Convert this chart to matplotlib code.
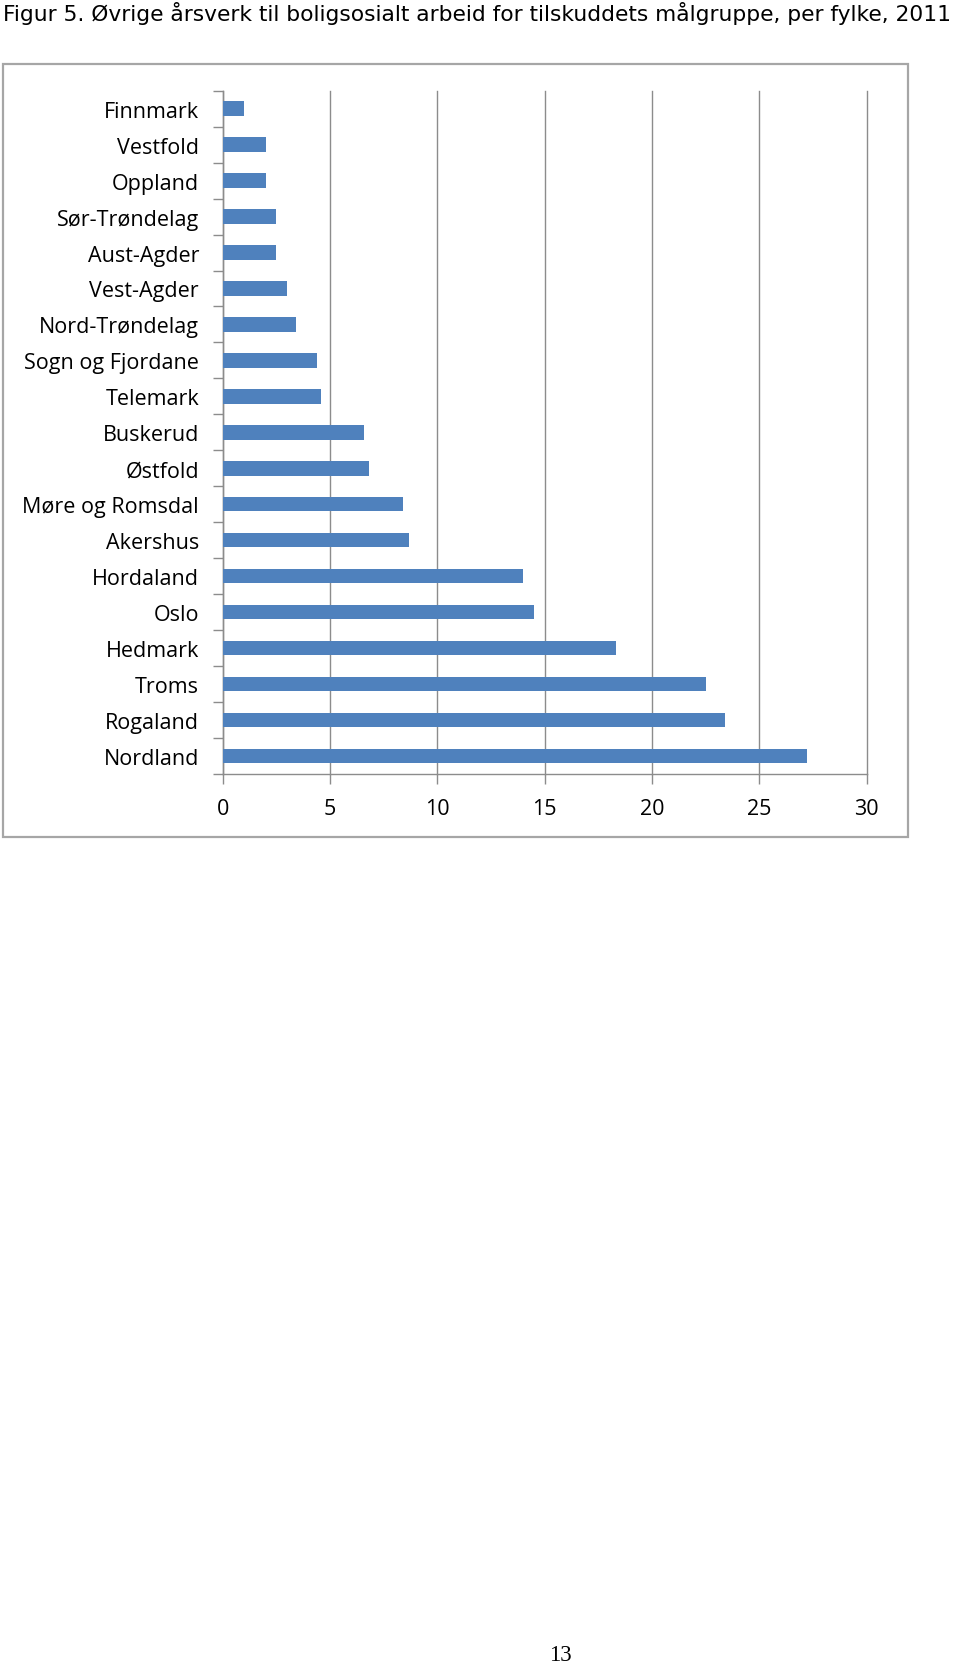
import matplotlib.pyplot as plt
from matplotlib.patches import Rectangle
import numpy as np

# data (top to bottom)
fylker = ['Finnmark', 'Vestfold', 'Oppland', 'Sør-Trøndelag', 'Aust-Agder',
          'Vest-Agder', 'Nord-Trøndelag', 'Sogn og Fjordane', 'Telemark',
          'Buskerud', 'Østfold', 'Møre og Romsdal', 'Akershus', 'Hordaland',
          'Oslo', 'Hedmark', 'Troms', 'Rogaland', 'Nordland']
aarsverk = [1.0, 2.0, 2.0, 2.5, 2.5, 3.0, 3.4, 4.4, 4.6, 6.6, 6.8, 8.4,
            8.7, 14.0, 14.5, 18.3, 22.5, 23.4, 27.2]
xticks = [0, 5, 10, 15, 20, 25, 30]

title = 'Figur 5. Øvrige årsverk til boligsosialt arbeid for tilskuddets målgruppe, per fylke, 2011'

W, H = 960, 1674
fig = plt.figure(figsize=(W / 100, H / 100), dpi=100)

grey = '#8c8c8c'

# outer chart frame (Excel chart area)
frame = Rectangle((2.7 / W, 1 - 837.7 / H), 905 / W, 773 / H,
                  transform=fig.transFigure, fill=False,
                  edgecolor='#a6a6a6', linewidth=1.6)
fig.patches.append(frame)

ax = fig.add_axes([222.7 / W, 1 - 775 / H, 644 / W, 683.3 / H])
y = np.arange(len(fylker))
ax.barh(y, aarsverk, height=0.4, color='#4f81bd', zorder=3)

ax.set_xlim(0, 30)
ax.set_ylim(len(fylker) - 0.5, -0.5)
ax.set_xticks(xticks)
ax.set_yticks(y)
ax.set_yticklabels(fylker)
ax.set_yticks(np.arange(len(fylker) + 1) - 0.5, minor=True)

lab_font = ['Open Sans', 'DejaVu Sans']
for lab in ax.get_yticklabels() + ax.get_xticklabels():
    lab.set_family(lab_font)
    lab.set_fontsize(15.5)

ax.tick_params(axis='y', which='major', length=0, pad=17)
ax.tick_params(axis='y', which='minor', length=7, color=grey, width=1)
ax.tick_params(axis='x', which='major', length=7, color=grey, width=1, pad=10)

ax.grid(axis='x', color=grey, linewidth=1, zorder=0)
for gl in ax.get_xgridlines():
    gl.set_clip_on(False)
for s in ['top', 'right']:
    ax.spines[s].set_visible(False)
for s in ['left', 'bottom']:
    ax.spines[s].set_color(grey)
    ax.spines[s].set_linewidth(1)

fig.text(3 / W, 1 - 2 / H, title, ha='left', va='top', fontsize=15.7,
         family=['DejaVu Sans'])

fig.text(560 / W, 1 - 1656 / H, '13', ha='center', va='center', fontsize=16.5,
         family=['Liberation Serif', 'DejaVu Serif'])

fig.savefig('out.png', dpi=100)
